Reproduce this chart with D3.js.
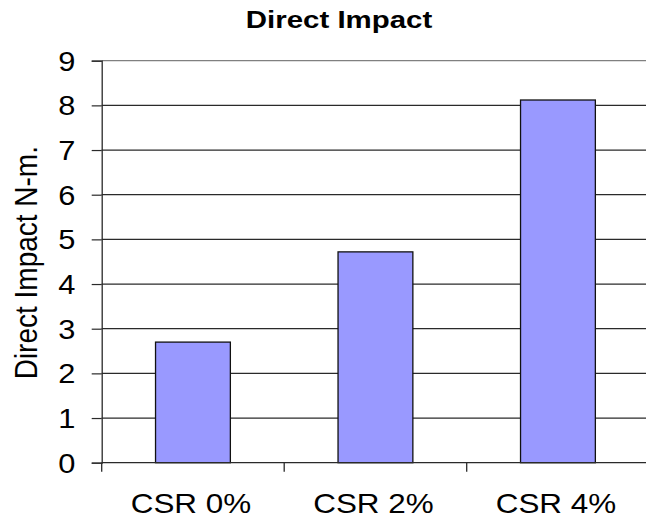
<!DOCTYPE html>
<html>
<head>
<meta charset="utf-8">
<script src="https://cdn.jsdelivr.net/npm/d3@7"></script>
<style>
  html, body { margin: 0; padding: 0; background: #fff; }
  svg { display: block; font-family: "Liberation Sans", Arial, sans-serif; }
</style>
</head>
<body>
<svg id="chart" width="646" height="519"></svg>
<script>
const categories = ["CSR 0%", "CSR 2%", "CSR 4%"];
const values = [2.70, 4.72, 8.12];
const yTicks = [0, 1, 2, 3, 4, 5, 6, 7, 8, 9];

const svg = d3.select("#chart");
const plotLeft = 101.7, plotRight = 649.2, plotTop = 60.7, plotBottom = 462.7;
const stretch = 1.1; // glyphs are drawn slightly wide

const x = d3.scaleBand().domain(categories).range([plotLeft, plotRight]).paddingInner(0.59).paddingOuter(0.295);
const xb = d3.scaleBand().domain(categories).range([plotLeft, plotRight]);
const y = d3.scaleLinear().domain([0, 9]).range([plotBottom, plotTop]);

// horizontal gridlines
svg.append("g").selectAll("line").data(yTicks.filter(d => d > 0)).join("line")
  .attr("x1", plotLeft).attr("x2", plotRight)
  .attr("y1", d => y(d)).attr("y2", d => y(d))
  .attr("stroke", d => d === 9 ? "#808080" : "#2a2a2a")
  .attr("stroke-width", 1.2);

// bars
svg.append("g").selectAll("rect").data(values).join("rect")
  .attr("x", (d, i) => x(categories[i]))
  .attr("width", x.bandwidth())
  .attr("y", d => y(d))
  .attr("height", d => y(0) - y(d))
  .attr("fill", "#9999ff")
  .attr("stroke", "#111")
  .attr("stroke-width", 1.3);

// y axis (line + ticks from d3.axisLeft, labels drawn wide)
const yAxis = d3.axisLeft(y).tickValues(yTicks).tickSize(10).tickFormat("");
const gy = svg.append("g").attr("transform", `translate(${plotLeft},0)`).call(yAxis);
gy.select(".domain").attr("stroke", "#2a2a2a").attr("stroke-width", 1.3);
gy.selectAll(".tick line").attr("stroke", "#2a2a2a").attr("stroke-width", 1.2);
svg.append("g").selectAll("text").data(yTicks).join("text")
  .attr("transform", d => `translate(75.5,${y(d) + 10}) scale(${stretch},1)`)
  .attr("text-anchor", "end")
  .attr("font-size", 28)
  .text(d => d);

// x axis
const gx = svg.append("g").attr("transform", `translate(0,${plotBottom})`);
gx.append("line").attr("x1", plotLeft).attr("x2", plotRight).attr("y1", 0).attr("y2", 0)
  .attr("stroke", "#2a2a2a").attr("stroke-width", 1.3);
const xTickPos = [plotLeft].concat(categories.map(c => xb(c) + xb.bandwidth()));
gx.selectAll("line.tk").data(xTickPos).join("line").attr("class", "tk")
  .attr("x1", d => d).attr("x2", d => d).attr("y1", 0).attr("y2", 9)
  .attr("stroke", "#2a2a2a").attr("stroke-width", 1.3);
gx.selectAll("text").data(categories).join("text")
  .attr("transform", d => `translate(${xb(d) + xb.bandwidth() / 2 - 2},50) scale(${stretch * 1.02},1)`)
  .attr("text-anchor", "middle")
  .attr("font-size", 28)
  .text(d => d);

// titles
svg.append("text").attr("transform", "translate(339,27.5) scale(1.28,1)")
  .attr("text-anchor", "middle")
  .attr("font-size", 23).attr("font-weight", "bold").text("Direct Impact");
svg.append("text").attr("transform", `translate(36.5,${(plotTop + plotBottom) / 2 + 1}) rotate(-90) scale(1,${stretch})`)
  .attr("text-anchor", "middle").attr("font-size", 28).text("Direct Impact N-m.");
</script>
</body>
</html>
